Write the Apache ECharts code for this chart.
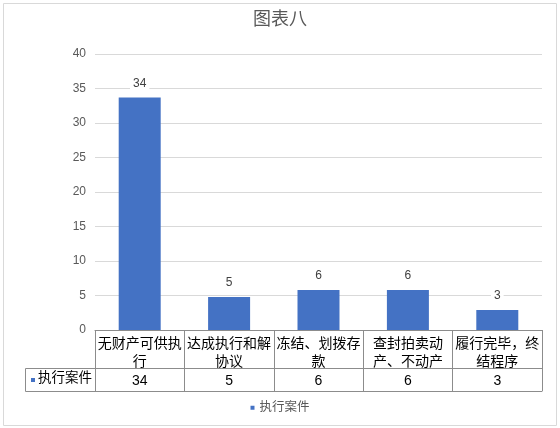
<!DOCTYPE html>
<html>
<head>
<meta charset="utf-8">
<script src="https://cdn.jsdelivr.net/npm/echarts@6/dist/echarts.min.js"></script>
<style>html,body{margin:0;padding:0;background:#fff}#c{width:560px;height:428px}</style>
</head>
<body>
<div id="c"></div>
<script>
var titleText = '图表八';
var seriesName = '执行案件';
var categories = ['无财产可供执行', '达成执行和解协议', '冻结、划拨存款', '查封拍卖动产、不动产', '履行完毕，终结程序'];
var categoryLines = [['无财产可供执', '行'], ['达成执行和解', '协议'], ['冻结、划拨存', '款'], ['查封拍卖动', '产、不动产'], ['履行完毕，终', '结程序']];
var values = [33.7, 4.8, 5.8, 5.8, 2.9];
var yTicks = [0, 5, 10, 15, 20, 25, 30, 35, 40];

var FONT = '"Liberation Sans", "Noto Sans CJK SC", sans-serif';
var GL = 95, GR = 18, GT = 54, GB = 98;
var tableColor = '#8c8c8c';
var fmt = function (v) { return String(Math.round(v)); };

var chart = echarts.init(document.getElementById('c'), null, {renderer: 'canvas'});
chart.setOption({
  animation: false,
  textStyle: {fontFamily: FONT},
  title: {
    text: titleText, left: 'center', top: 6,
    textStyle: {fontSize: 18, fontWeight: 'normal', color: '#595959', fontFamily: FONT}
  },
  legend: {
    data: [seriesName], bottom: 9, left: 'center',
    icon: 'rect', itemWidth: 4, itemHeight: 4, itemGap: 5,
    textStyle: {fontSize: 12.5, color: '#595959', fontFamily: FONT}
  },
  grid: {left: GL, right: GR, top: GT, bottom: GB, containLabel: false},
  xAxis: [{
    type: 'category', data: categories, position: 'bottom',
    axisLine: {show: true, lineStyle: {color: tableColor, width: 1}},
    axisTick: {show: true, interval: 0, length: 61, lineStyle: {color: tableColor}},
    axisLabel: {
      interval: 0, margin: 5, lineHeight: 18,
      fontSize: 14, color: '#000', fontFamily: FONT,
      formatter: function (v, i) { return categoryLines[i].join('\n'); }
    }
  }, {
    type: 'category', data: values.map(fmt), position: 'bottom', offset: 38,
    axisLine: {show: true, lineStyle: {color: tableColor, width: 1}},
    axisTick: {show: false},
    axisLabel: {interval: 0, margin: 5, fontSize: 14, lineHeight: 16, color: '#000', fontFamily: FONT}
  }, {
    type: 'category', data: categories, position: 'bottom', offset: 61,
    axisLine: {show: true, lineStyle: {color: tableColor, width: 1}},
    axisTick: {show: false}, axisLabel: {show: false}
  }],
  yAxis: {
    type: 'value', min: yTicks[0], max: yTicks[yTicks.length - 1], interval: yTicks[1] - yTicks[0],
    axisLine: {show: false}, axisTick: {show: false},
    axisLabel: {fontSize: 12, color: '#595959', margin: 9, fontFamily: FONT},
    splitLine: {lineStyle: {color: '#d9d9d9', width: 1}}
  },
  series: [{
    name: seriesName, type: 'bar', data: values, xAxisIndex: 0,
    barWidth: 42, itemStyle: {color: '#4472c4'},
    label: {
      show: true, position: 'top', distance: 7, fontSize: 12, color: '#404040',
      backgroundColor: '#fff', padding: [1, 3],
      fontFamily: FONT, formatter: function (p) { return fmt(p.value); }
    }
  }],
  graphic: [
    {type: 'rect', shape: {x: 3.5, y: 3.5, width: 553, height: 422},
     style: {fill: null, stroke: '#d9d9d9', lineWidth: 1}, silent: true},
    {type: 'polyline', shape: {points: [[GL, 368.5], [25.5, 368.5], [25.5, 391.5], [GL, 391.5]]},
     style: {fill: null, stroke: tableColor, lineWidth: 1}, silent: true},
    {type: 'rect', shape: {x: 31, y: 378, width: 4, height: 4}, style: {fill: '#4472c4'}, silent: true},
    {type: 'text', left: 38, top: 372,
     style: {text: seriesName, fontSize: 13.5, fill: '#000', fontFamily: FONT}, silent: true}
  ]
});
</script>
</body>
</html>
